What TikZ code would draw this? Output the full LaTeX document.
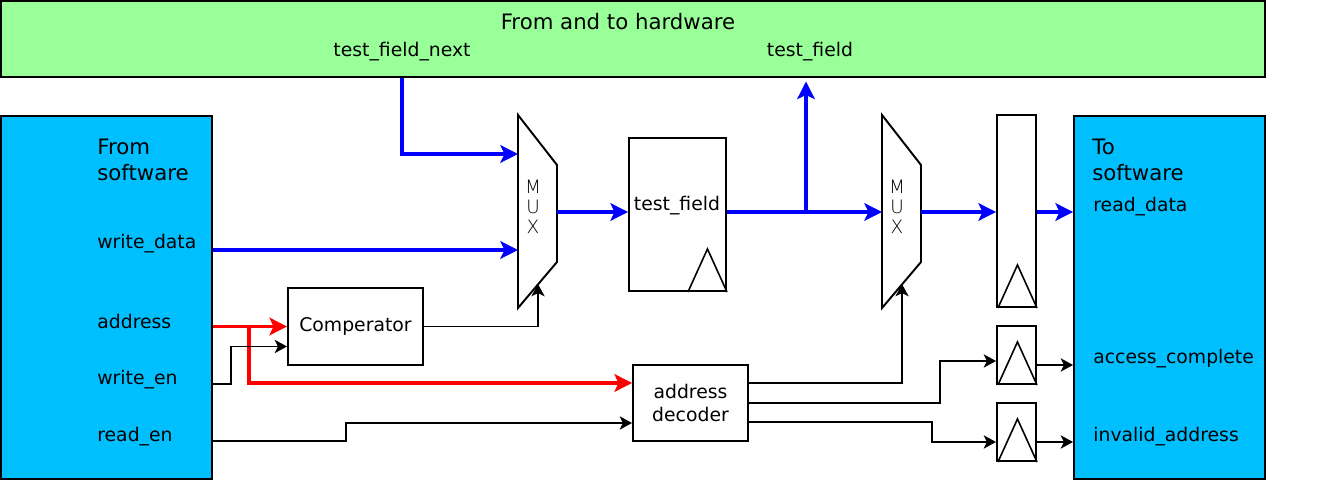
\documentclass[tikz,border=0pt]{standalone}
\usepackage{fontspec}
\setmainfont{DejaVu Sans}
\newfontfamily\muxfont{DejaVu Sans ExtraLight}
\usetikzlibrary{positioning, calc, arrows.meta}

\definecolor{hwgreen}{RGB}{153,255,153}
\definecolor{swblue}{RGB}{0,191,255}

\begin{document}
\begin{tikzpicture}[
  x=0.02cm, y=-0.02cm,
  font=\fontsize{10.7}{13}\selectfont,
  block/.style={draw, line width=1.1pt, inner sep=0pt},
  sig/.style={-{Stealth[length=7pt, width=7.5pt, inset=1.8pt]}, line width=1.1pt},
  bus/.style={-{Stealth[length=10pt, width=10pt, inset=2.3pt]}, blue, line width=1.9pt},
  abus/.style={bus, red},
  pin/.style={anchor=west, inner sep=0pt},
  title/.style={font=\fontsize{12.1}{14.8}\selectfont, align=left},
  muxtext/.style={font=\muxfont\fontsize{10.5}{11.4}\selectfont, align=center, inner sep=0pt},
]
\useasboundingbox (0,0) rectangle (1322,482);

% hardware and software sides
\node[block, fill=hwgreen, minimum width=25.28cm, minimum height=1.52cm] (hw) at (633,39) {};
\node[title] (hwtitle) at (618,22) {From and to hardware};
\node (tfnext) at (402,52) {test\_field\_next};
\node (tfhw) at (810,52) {test\_field};

\node[block, fill=swblue, minimum width=4.22cm, minimum height=7.26cm] (fromsw) at (106.5,297.5) {};
\node[block, fill=swblue, minimum width=3.82cm, minimum height=7.26cm] (tosw) at (1169.5,297.5) {};
\node[pin, title] (fromtxt) at (97,160) {From\\software};
\node[pin, title] (totxt) at (1092,160) {To\\software};

\node[pin] (wdata) at (97,244) {write\_data};
\node[pin] (addr) at (97,321) {address};
\node[pin] (wen) at (97,380) {write\_en};
\node[pin] (ren) at (97,437) {read\_en};
\node[pin] (rdata) at (1093,207) {read\_data};
\node[pin] (acc) at (1093,359) {access\_complete};
\node[pin] (inv) at (1093,437) {invalid\_address};

% muxes
\foreach \mx/\nm in {518/mux1, 882/mux2} {
  \draw[line width=1.1pt, line join=miter] (\mx,115) -- ++(39,50) -- ++(0,97) -- (\mx,308) -- cycle;
  \node[muxtext] (\nm) at (\mx+15,207) {M\\U\\X};
  \coordinate (\nm-in1) at (\mx,154);
  \coordinate (\nm-in2) at (\mx,250);
  \coordinate (\nm-in) at (\mx,212);
  \coordinate (\nm-out) at (\mx+39,212);
  \coordinate (\nm-sel) at (\mx+20,284);
}

% registers
\node[block, minimum width=1.94cm, minimum height=3.06cm] (tfreg) at (677.5,214.5) {};
\node (tfname) at (677,206) {test\_field};
\node[block, minimum width=0.78cm, minimum height=3.84cm] (rdreg) at (1016.5,211) {};
\node[block, minimum width=0.78cm, minimum height=1.16cm] (acreg) at (1016.5,355) {};
\node[block, minimum width=0.78cm, minimum height=1.16cm] (invreg) at (1016.5,432) {};
\foreach \r in {tfreg, rdreg, acreg, invreg}
  \draw[line width=0.9pt] (\r.south east) -- ++(-19.5,-43) -- ++(-19.5,43);

% logic
\node[block, minimum width=2.7cm, minimum height=1.54cm] (comp) at (355.5,326.5) {Comperator};
\node[block, minimum width=2.3cm, minimum height=1.52cm, align=center] (dec) at (690.5,403) {address\\decoder};

% data path
\draw[bus] (hw.south -| tfnext) |- (mux1-in1);
\draw[bus] (fromsw.east |- mux1-in2) -- (mux1-in2);
\draw[bus] (mux1-out) -- (tfreg.west |- mux1-out);
\draw[bus] (tfreg.east |- mux1-out) -- (mux2-in);
\coordinate (tap) at (806,212);
\draw[bus, shorten >=2pt] (tap) -- (tap |- hw.south);
\draw[bus] (mux2-out) -- (rdreg.west |- mux2-out);
\draw[bus] (rdreg.east |- mux2-out) -- (tosw.west |- mux2-out);

% address
\draw[abus] (fromsw.east |- comp) -- (comp.west);
\coordinate (abr) at (249,326);
\draw[abus] (abr) |- ($(dec.west)+(0,-20)$);

% control
\draw[sig] (fromsw.east |- 0,384) -- (231,384) |- ($(comp.west)+(0,20)$);
\draw[sig] (fromsw.east |- 0,441) -- (346,441) |- ($(dec.west)+(0,20)$);
\draw[sig] (comp.east) -| (mux1-sel);
\draw[sig] ($(dec.east)+(0,-20)$) -| (mux2-sel);
\draw[sig] (dec.east) -- (940,403) |- ($(acreg.west)+(0,6)$);
\draw[sig] ($(dec.east)+(0,19)$) -- (932,422) |- ($(invreg.west)+(0,10)$);
\draw[sig] ($(acreg.east)+(0,10)$) -- (tosw.west |- 0,365);
\draw[sig] ($(invreg.east)+(0,10)$) -- (tosw.west |- 0,442);
\end{tikzpicture}
\end{document}
